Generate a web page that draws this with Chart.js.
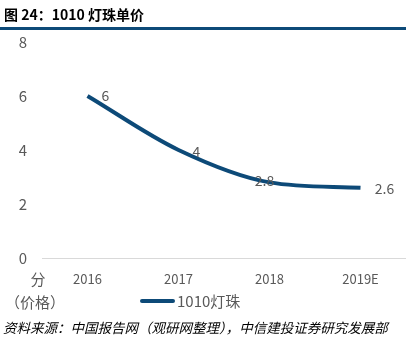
<!DOCTYPE html>
<html>
<head>
<meta charset="utf-8">
<script src="https://cdn.jsdelivr.net/npm/chart.js@4.4.1/dist/chart.umd.min.js"></script>
<style>
  html, body { margin: 0; padding: 0; background: #fff; }
  #wrap { position: relative; width: 406px; height: 342px; }
</style>
</head>
<body>
<div id="wrap"><canvas id="chartPrice" width="406" height="342"></canvas></div>
<script>
// 1010 LED unit price
const years = ['2016', '2017', '2018', '2019E'];
const prices = [6, 4, 2.8, 2.6];
const yTicks = [0, 2, 4, 6, 8];
const seriesName = '1010灯珠';

const lineColor = '#0d4a78';
const textColor = '#595959';
const cjk = '"Noto Sans CJK SC", "Noto Sans", sans-serif';

// value labels sit beside each point
const labelOffsets = [[18, 0], [18, 2], [-5, -2], [24, 1]];

const extras = {
  id: 'extras',
  afterDraw(chart) {
    const ctx = chart.ctx;
    const meta = chart.getDatasetMeta(0);
    const ds = chart.data.datasets[0];
    ctx.save();

    // title and rule
    ctx.fillStyle = '#000';
    ctx.font = 'bold 14px ' + cjk;
    ctx.textBaseline = 'middle';
    ctx.textAlign = 'left';
    ctx.fillText('图 24：1010 灯珠单价', 4, 15);
    ctx.fillStyle = '#0d4a78';
    ctx.fillRect(0, 27, 406, 3);

    // point values
    ctx.fillStyle = textColor;
    ctx.font = '14px ' + cjk;
    ctx.textAlign = 'center';
    meta.data.forEach((pt, i) => {
      const [dx, dy] = labelOffsets[i];
      ctx.fillText(String(prices[i]), pt.x + dx, pt.y + dy);
    });

    // unit text left of the axis
    ctx.font = '15px ' + cjk;
    ctx.fillText('分', 38, 279);
    ctx.fillText('（价格）', 35, 302);

    // legend: short thick line then the series name
    ctx.strokeStyle = ds.borderColor;
    ctx.lineWidth = 4;
    ctx.lineCap = 'round';
    ctx.beginPath();
    ctx.moveTo(142, 301);
    ctx.lineTo(173, 301);
    ctx.stroke();
    ctx.textAlign = 'left';
    ctx.fillText(ds.label, 177, 301);

    // source line
    ctx.fillStyle = '#000';
    ctx.font = 'italic 13.5px ' + cjk;
    ctx.fillText('资料来源：中国报告网（观研网整理），中信建投证券研究发展部', 3, 328);
    ctx.restore();
  }
};

new Chart(document.getElementById('chartPrice'), {
  type: 'line',
  data: {
    labels: years,
    datasets: [{
      label: seriesName,
      data: prices,
      borderColor: lineColor,
      backgroundColor: lineColor,
      borderWidth: 4,
      pointRadius: 0,
      cubicInterpolationMode: 'monotone',
      fill: false
    }]
  },
  options: {
    responsive: false,
    animation: false,
    layout: { padding: { top: 42, left: 0, right: 0, bottom: 54 } },
    plugins: {
      legend: { display: false },
      tooltip: { enabled: false }
    },
    scales: {
      x: {
        offset: true,
        afterFit(scale) { scale.height = 30; },
        grid: { display: false, drawTicks: false },
        border: { display: true, color: '#d9d9d9', width: 1 },
        ticks: { color: textColor, font: { size: 13, family: cjk }, padding: 13 }
      },
      y: {
        min: 0,
        max: 8,
        afterFit(scale) { scale.width = 42; },
        afterBuildTicks(scale) { scale.ticks = yTicks.map(v => ({ value: v })); },
        grid: { display: false, drawTicks: false },
        border: { display: false },
        ticks: { color: textColor, font: { size: 15, family: cjk }, padding: 15 }
      }
    }
  },
  plugins: [extras]
});
</script>
</body>
</html>
